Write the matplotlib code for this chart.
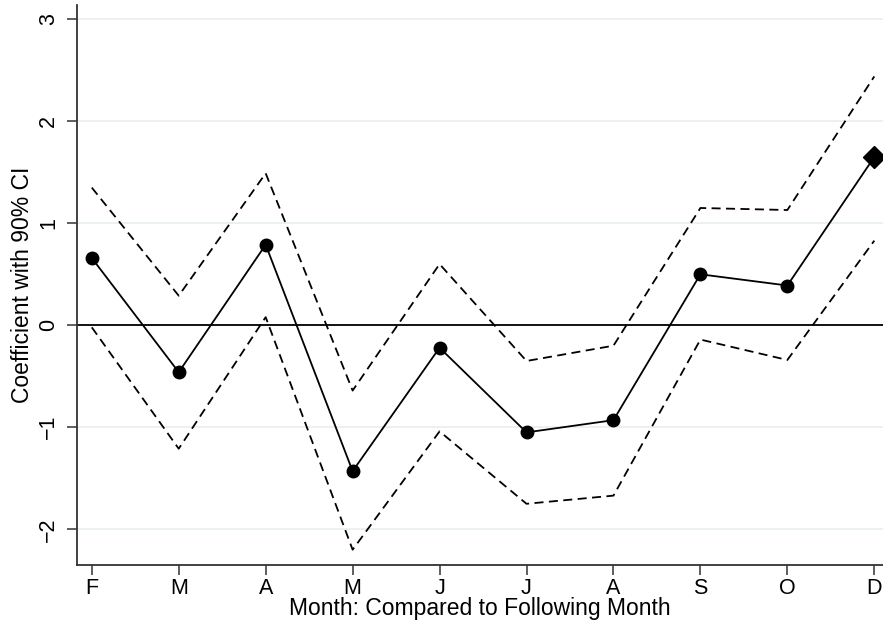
import matplotlib.pyplot as plt
import numpy as np

plt.rcParams['font.family'] = ['Liberation Sans', 'DejaVu Sans']

# month labels (each compared to following month)
months = ['F', 'M', 'A', 'M', 'J', 'J', 'A', 'S', 'O', 'D']
coef = [0.66, -0.46, 0.79, -1.43, -0.22, -1.05, -0.93, 0.50, 0.39, 1.65]
upper = [1.35, 0.29, 1.49, -0.64, 0.60, -0.35, -0.20, 1.15, 1.13, 2.44]
lower = [-0.02, -1.21, 0.08, -2.20, -1.04, -1.75, -1.67, -0.14, -0.34, 0.83]
yticks = [-2, -1, 0, 1, 2, 3]

x = np.arange(1, len(months) + 1)

fig = plt.figure(figsize=(8.83, 6.33), dpi=100)
ax = fig.add_axes([77 / 883, 1 - 565 / 633, 1 - 77 / 883, (565 - 5) / 633])

for v in yticks:
    ax.axhline(v, color='#e8eef0', lw=1.2, zorder=0)
ax.axhline(0, color='black', lw=1.3, zorder=1)

ax.plot(x, upper, color='black', ls=(0, (5, 3)), lw=1.3)
ax.plot(x, lower, color='black', ls=(0, (5, 3)), lw=1.3)
ax.plot(x, coef, color='black', lw=1.3)
ax.plot(x[:-1], coef[:-1], 'o', color='black', ms=9)
ax.plot(x[-1:], coef[-1:], 'D', color='black', ms=11.5, clip_on=False)

ax.set_xlim(0.83, 10.1)
ax.set_ylim(-2.35, 3.14)
ax.set_xticks(x)
ax.set_xticklabels(months, fontsize=15.5)
ax.set_yticks(yticks)
ax.set_yticklabels(['\u22122', '\u22121', '0', '1', '2', '3'], fontsize=15.5,
                   rotation=90, va='center')

for s in ['top', 'right']:
    ax.spines[s].set_visible(False)
for s in ['left', 'bottom']:
    ax.spines[s].set_color('#333333')
    ax.spines[s].set_linewidth(1.3)
ax.tick_params(length=7, width=1.1, color='#333333', pad=2)
ax.tick_params(axis='y', pad=6)

ax.set_xlabel('Month: Compared to Following Month', fontsize=16.5, labelpad=-1)
ax.set_ylabel('Coefficient with 90% CI', fontsize=16.5, labelpad=3)

fig.savefig('out.png', dpi=100)
